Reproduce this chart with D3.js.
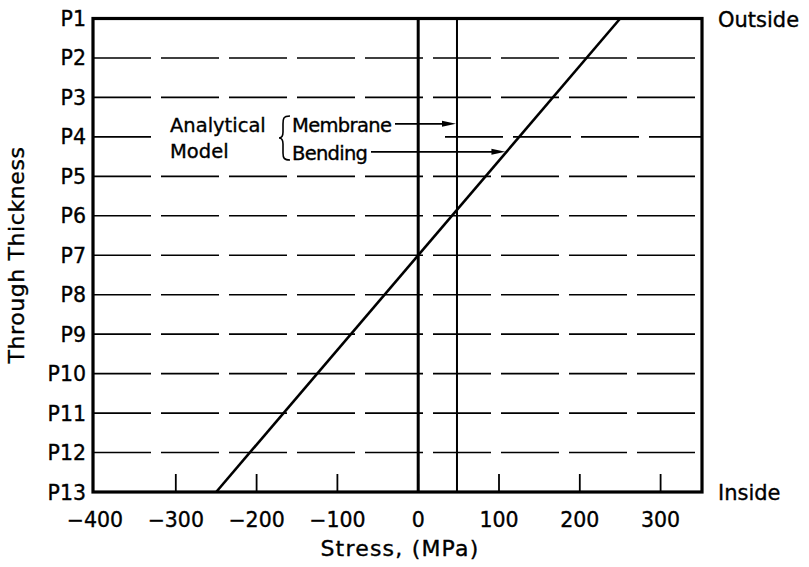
<!DOCTYPE html>
<html lang="en">
<head>
    <meta charset="UTF-8">
    <title>Through thickness stress</title>
    <script src="https://cdn.jsdelivr.net/npm/d3@7"></script>
    <style>
        body {margin: 0; background: #fff;}
        svg text {font-family: "DejaVu Sans", sans-serif; fill: #000; stroke: #000; stroke-width: 0.35;}
    </style>
</head>
<body>
<svg id="chart"></svg>
<script>
    // DATA
    const positions = ["P1","P2","P3","P4","P5","P6","P7","P8","P9","P10","P11","P12","P13"];
    const xTicks = [-400, -300, -200, -100, 0, 100, 200, 300];
    const membraneStress = 48;
    const bendingLine = [{pos: "P1", stress: 250}, {pos: "P13", stress: -250}];
    // annotation arrows: where they sit through the thickness (index from P1) and target stress
    const arrows = [
        {label: "Membrane", at: 2.67, stress: membraneStress},
        {label: "Bending", at: 3.38, stress: 250 * (6 - 3.38) / 6}
    ];

    const dim = {width: 809, height: 567};
    const plot = {left: 93, right: 702, top: 18.5, bottom: 492};

    const svg = d3.select("#chart").attr("width", dim.width).attr("height", dim.height);

    const x = d3.scaleLinear().domain([-400, 350]).range([95, 701]);
    const yIdx = d3.scaleLinear().domain([0, positions.length - 1]).range([plot.top, plot.bottom]);
    const y = p => yIdx(positions.indexOf(p));

    // dashed horizontal lines P2..P12 (P4 is interrupted by the annotation)
    const inner = positions.slice(1, -1);
    const grid = svg.append("g").attr("stroke", "#000").attr("stroke-width", 1.6)
                    .attr("stroke-dasharray", "58,10");
    inner.forEach(p => {
        if (p === "P4") {
            grid.append("line").attr("x1", plot.left).attr("x2", 152)
                .attr("y1", y(p)).attr("y2", y(p)).attr("stroke-dasharray", null);
            grid.append("line").attr("x1", 445).attr("x2", plot.right)
                .attr("y1", y(p)).attr("y2", y(p));
        } else {
            grid.append("line").attr("x1", plot.left).attr("x2", plot.right)
                .attr("y1", y(p)).attr("y2", y(p));
        }
    });

    // zero line and membrane line
    svg.append("line").attr("x1", x(0)).attr("x2", x(0))
       .attr("y1", plot.top).attr("y2", plot.bottom)
       .attr("stroke", "#000").attr("stroke-width", 3);
    svg.append("line").attr("x1", x(membraneStress)).attr("x2", x(membraneStress))
       .attr("y1", plot.top).attr("y2", plot.bottom)
       .attr("stroke", "#000").attr("stroke-width", 2);

    // bending (through thickness) line
    svg.append("path").datum(bendingLine)
       .attr("d", d3.line().x(d => x(d.stress)).y(d => y(d.pos)))
       .attr("stroke", "#000").attr("stroke-width", 2.6).attr("fill", "none");

    // bottom ticks
    svg.append("g").selectAll("line").data(xTicks.slice(1))
       .join("line")
         .attr("x1", d => x(d)).attr("x2", d => x(d))
         .attr("y1", plot.bottom).attr("y2", plot.bottom - 18)
         .attr("stroke", "#000").attr("stroke-width", 1.8);

    // frame
    svg.append("rect").attr("x", plot.left).attr("y", plot.top)
       .attr("width", plot.right - plot.left).attr("height", plot.bottom - plot.top)
       .attr("fill", "none").attr("stroke", "#000").attr("stroke-width", 3.2);

    // tick labels
    svg.append("g").selectAll("text").data(xTicks)
       .join("text")
         .attr("x", d => x(d)).attr("y", 527)
         .attr("text-anchor", "middle").attr("font-size", 20.5)
         .text(d => d < 0 ? "\u2212" + Math.abs(d) : d);

    svg.append("g").selectAll("text").data(positions)
       .join("text")
         .attr("x", 86).attr("y", d => y(d) + 7.5)
         .attr("text-anchor", "end").attr("font-size", 20.5)
         .text(d => d);

    // axis titles
    svg.append("text").attr("x", 400).attr("y", 556).attr("text-anchor", "middle")
       .attr("font-size", 22).attr("letter-spacing", 1.2).text("Stress, (MPa)");
    svg.append("text").attr("transform", "translate(24,255) rotate(-90)")
       .attr("text-anchor", "middle").attr("font-size", 22).attr("letter-spacing", 0.6)
       .text("Through Thickness");

    svg.append("text").attr("x", 718).attr("y", 27).attr("font-size", 21).text("Outside");
    svg.append("text").attr("x", 718).attr("y", 500).attr("font-size", 21).text("Inside");

    // annotation
    const note = svg.append("g").attr("font-size", 19.5);
    note.append("text").attr("x", 170).attr("y", 132).text("Analytical");
    note.append("text").attr("x", 170).attr("y", 158).text("Model");
    note.append("path")
        .attr("d", "M290,116 C283,116 283,119 283,124 L283,132 C283,136 281,138 279,138 C281,138 283,140 283,144 L283,153 C283,158 284,160 290,160")
        .attr("fill", "none").attr("stroke", "#000").attr("stroke-width", 1.6);

    const labelEnds = {Membrane: 395, Bending: 371};
    note.selectAll(".lbl").data(arrows)
        .join("text").attr("class", "lbl")
          .attr("x", 292).attr("y", d => yIdx(d.at) + 8)
          .attr("textLength", d => labelEnds[d.label] - 295)
          .text(d => d.label);
    note.selectAll(".arr").data(arrows)
        .join("line").attr("class", "arr")
          .attr("x1", d => labelEnds[d.label]).attr("x2", d => x(d.stress) - 10)
          .attr("y1", d => yIdx(d.at)).attr("y2", d => yIdx(d.at))
          .attr("stroke", "#000").attr("stroke-width", 1.6);
    note.selectAll(".head").data(arrows)
        .join("path").attr("class", "head")
          .attr("d", d => {
              const tx = x(d.stress) - 1, ty = yIdx(d.at);
              return `M${tx},${ty} L${tx - 14},${ty - 3} L${tx - 14},${ty + 3} Z`;
          })
          .attr("fill", "#000");
</script>
</body>
</html>
